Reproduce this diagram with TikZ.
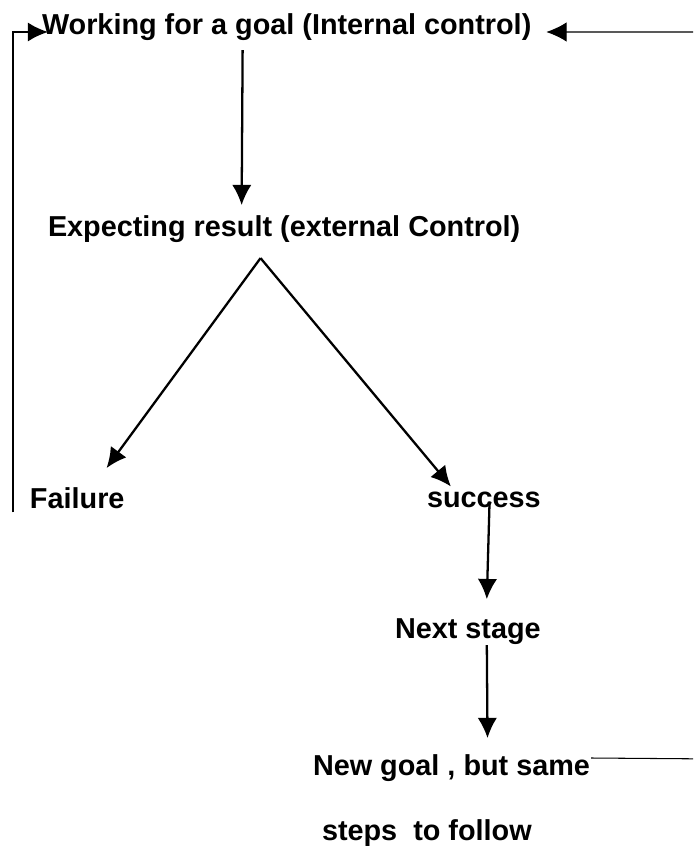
\documentclass[tikz,border=0pt]{standalone}
\usepackage{fontspec}
\setmainfont{Liberation Sans}
\usetikzlibrary{arrows.meta,calc}

\begin{document}
\begin{tikzpicture}[x=0.02cm, y=-0.02cm,
    lbl/.style={font=\bfseries\fontsize{16.4}{20}\selectfont, inner sep=0pt, outer sep=0pt, anchor=base west},
    arr/.style={line width=1.3pt, -{Latex[length=11.5pt,width=11pt]}}]
    \useasboundingbox (0,0) rectangle (693,854);
    \clip (0,0) rectangle (693,854);

    \node[lbl] (work)   at (42,35)   {Working for a goal (Internal control)};
    \node[lbl] (expect) at (48,237)  {Expecting result (external Control)};
    \node[lbl] (fail)   at (30,508)  {Failure};
    \node[lbl] (succ)   at (427,507) {success};
    \node[lbl] (next)   at (395,638) {Next stage};
    \node[lbl] (newg)   at (313,775) {New goal , but same};
    \node[lbl] (steps)  at (322,840) {steps\ \ to follow};

    \draw[arr] ($(work.south west)!0.41!(work.south east)+(0,9)$) -- ($(expect.north west)!0.41!(expect.north east)+(0,-11)$);
    \draw[arr] ($(expect.south west)!0.45!(expect.south east)+(0,15)$) -- ($(fail.north west)!0.81!(fail.north east)+(0,-19)$);
    \draw[arr] ($(expect.south west)!0.45!(expect.south east)+(0,15)$) -- ($(succ.north west)!0.21!(succ.north east)+(0,-5)$);
    \draw[arr] ($(succ.south west)!0.55!(succ.south east)+(0,-6)$) -- ($(next.north west)!0.63!(next.north east)+(0,-19)$);
    \draw[arr] ($(next.south west)!0.63!(next.south east)+(0,1)$) -- ($(newg.north west)!0.63!(newg.north east)+(0,-16)$);

    % back to the goal
    \draw[arr] ($(fail.south west)+(-17,4)$) |- ($(work.base west)+(6,-3)$);
    \draw[arr, line width=0.6pt] ($(newg.base east)+(1,-17)$) -- ++(127,1) |- ($(work.base east)+(15,-3)$);
\end{tikzpicture}
\end{document}
